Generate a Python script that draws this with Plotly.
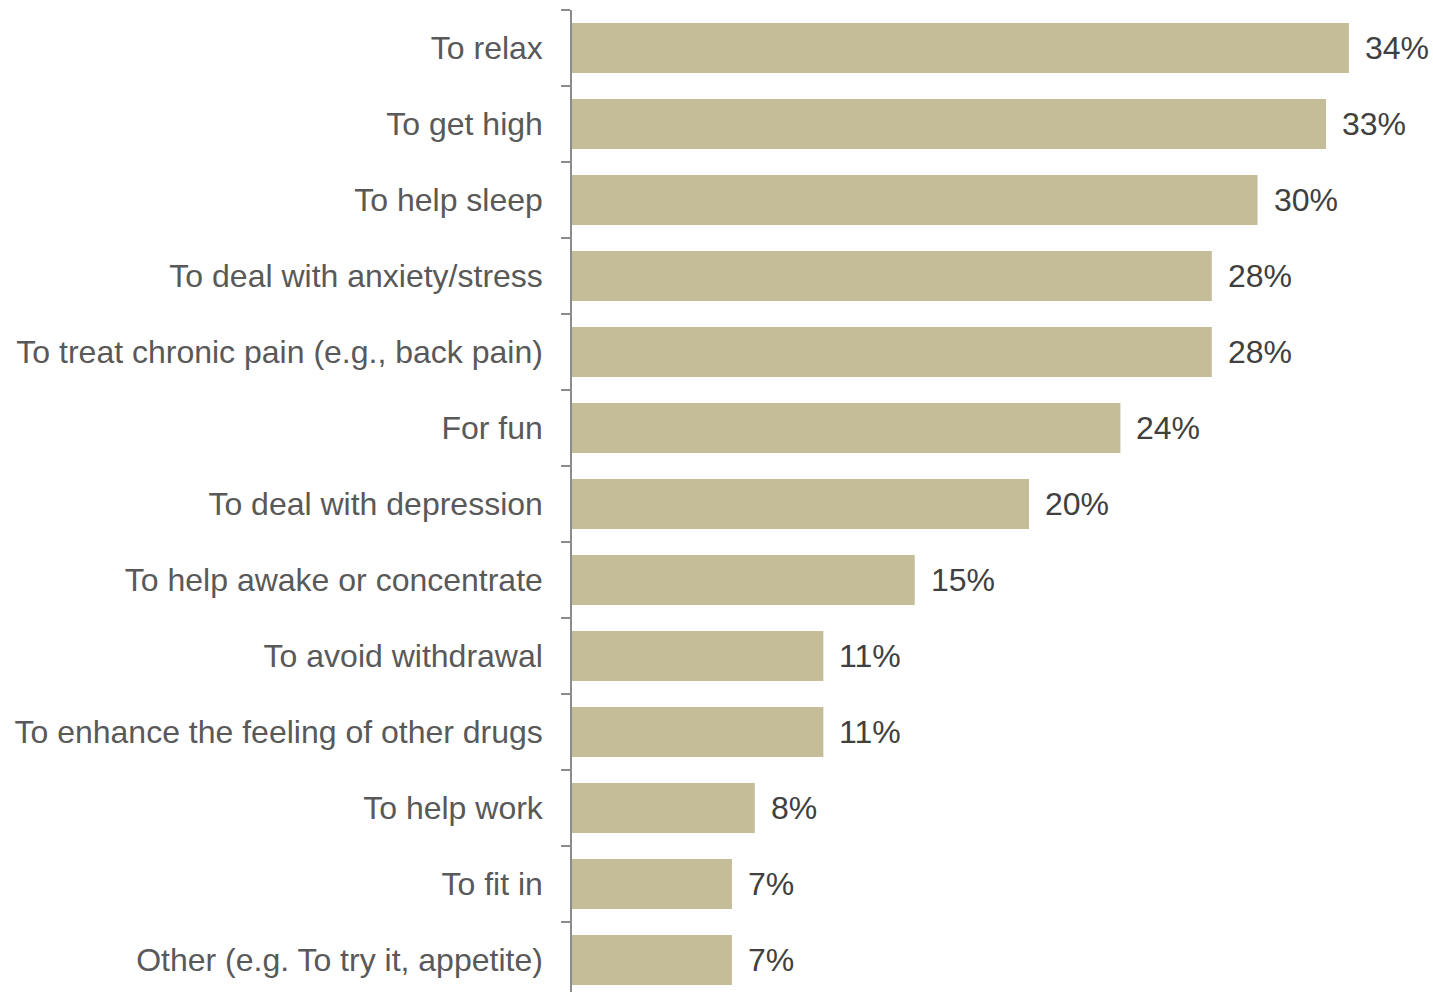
import plotly.graph_objects as go

categories = [
    "To relax",
    "To get high",
    "To help sleep",
    "To deal with anxiety/stress",
    "To treat chronic pain (e.g., back pain)",
    "For fun",
    "To deal with depression",
    "To help awake or concentrate",
    "To avoid withdrawal",
    "To enhance the feeling of other drugs",
    "To help work",
    "To fit in",
    "Other (e.g. To try it, appetite)",
]
values = [34, 33, 30, 28, 28, 24, 20, 15, 11, 11, 8, 7, 7]

BAR = "#C5BD98"
FONT = "Liberation Sans, Arial, sans-serif"

fig = go.Figure()
fig.add_trace(go.Bar(
    x=values,
    y=categories,
    orientation="h",
    marker=dict(color=BAR, line=dict(width=0)),
    hoverinfo="skip",
))

for c, v in zip(categories, values):
    fig.add_annotation(
        x=v, y=c, text=f"{v}%", showarrow=False,
        xanchor="left", yanchor="middle", xshift=14,
        font=dict(family=FONT, size=32, color="#404040"),
    )

fig.update_layout(
    width=1433, height=992,
    margin=dict(l=572, r=0, t=10, b=0),
    paper_bgcolor="white", plot_bgcolor="white",
    bargap=0.34,
    showlegend=False,
    xaxis=dict(visible=False, range=[0, 37.68]),
    yaxis=dict(
        type="category",
        categoryorder="array", categoryarray=categories,
        range=[12.421, -0.5],
        showline=True, linecolor="#8C8C8C", linewidth=1.5,
        ticks="outside", ticklen=9, tickcolor="#8C8C8C", tickwidth=1.5,
        tickson="boundaries",
        showgrid=False, zeroline=False,
        tickfont=dict(family=FONT, size=32, color="#595959"),
        ticklabelstandoff=21,
    ),
)

fig.write_html(
    "out.html",
    config={"displayModeBar": False},
    post_script="document.body.style.margin='0';document.body.style.overflow='hidden';",
)
